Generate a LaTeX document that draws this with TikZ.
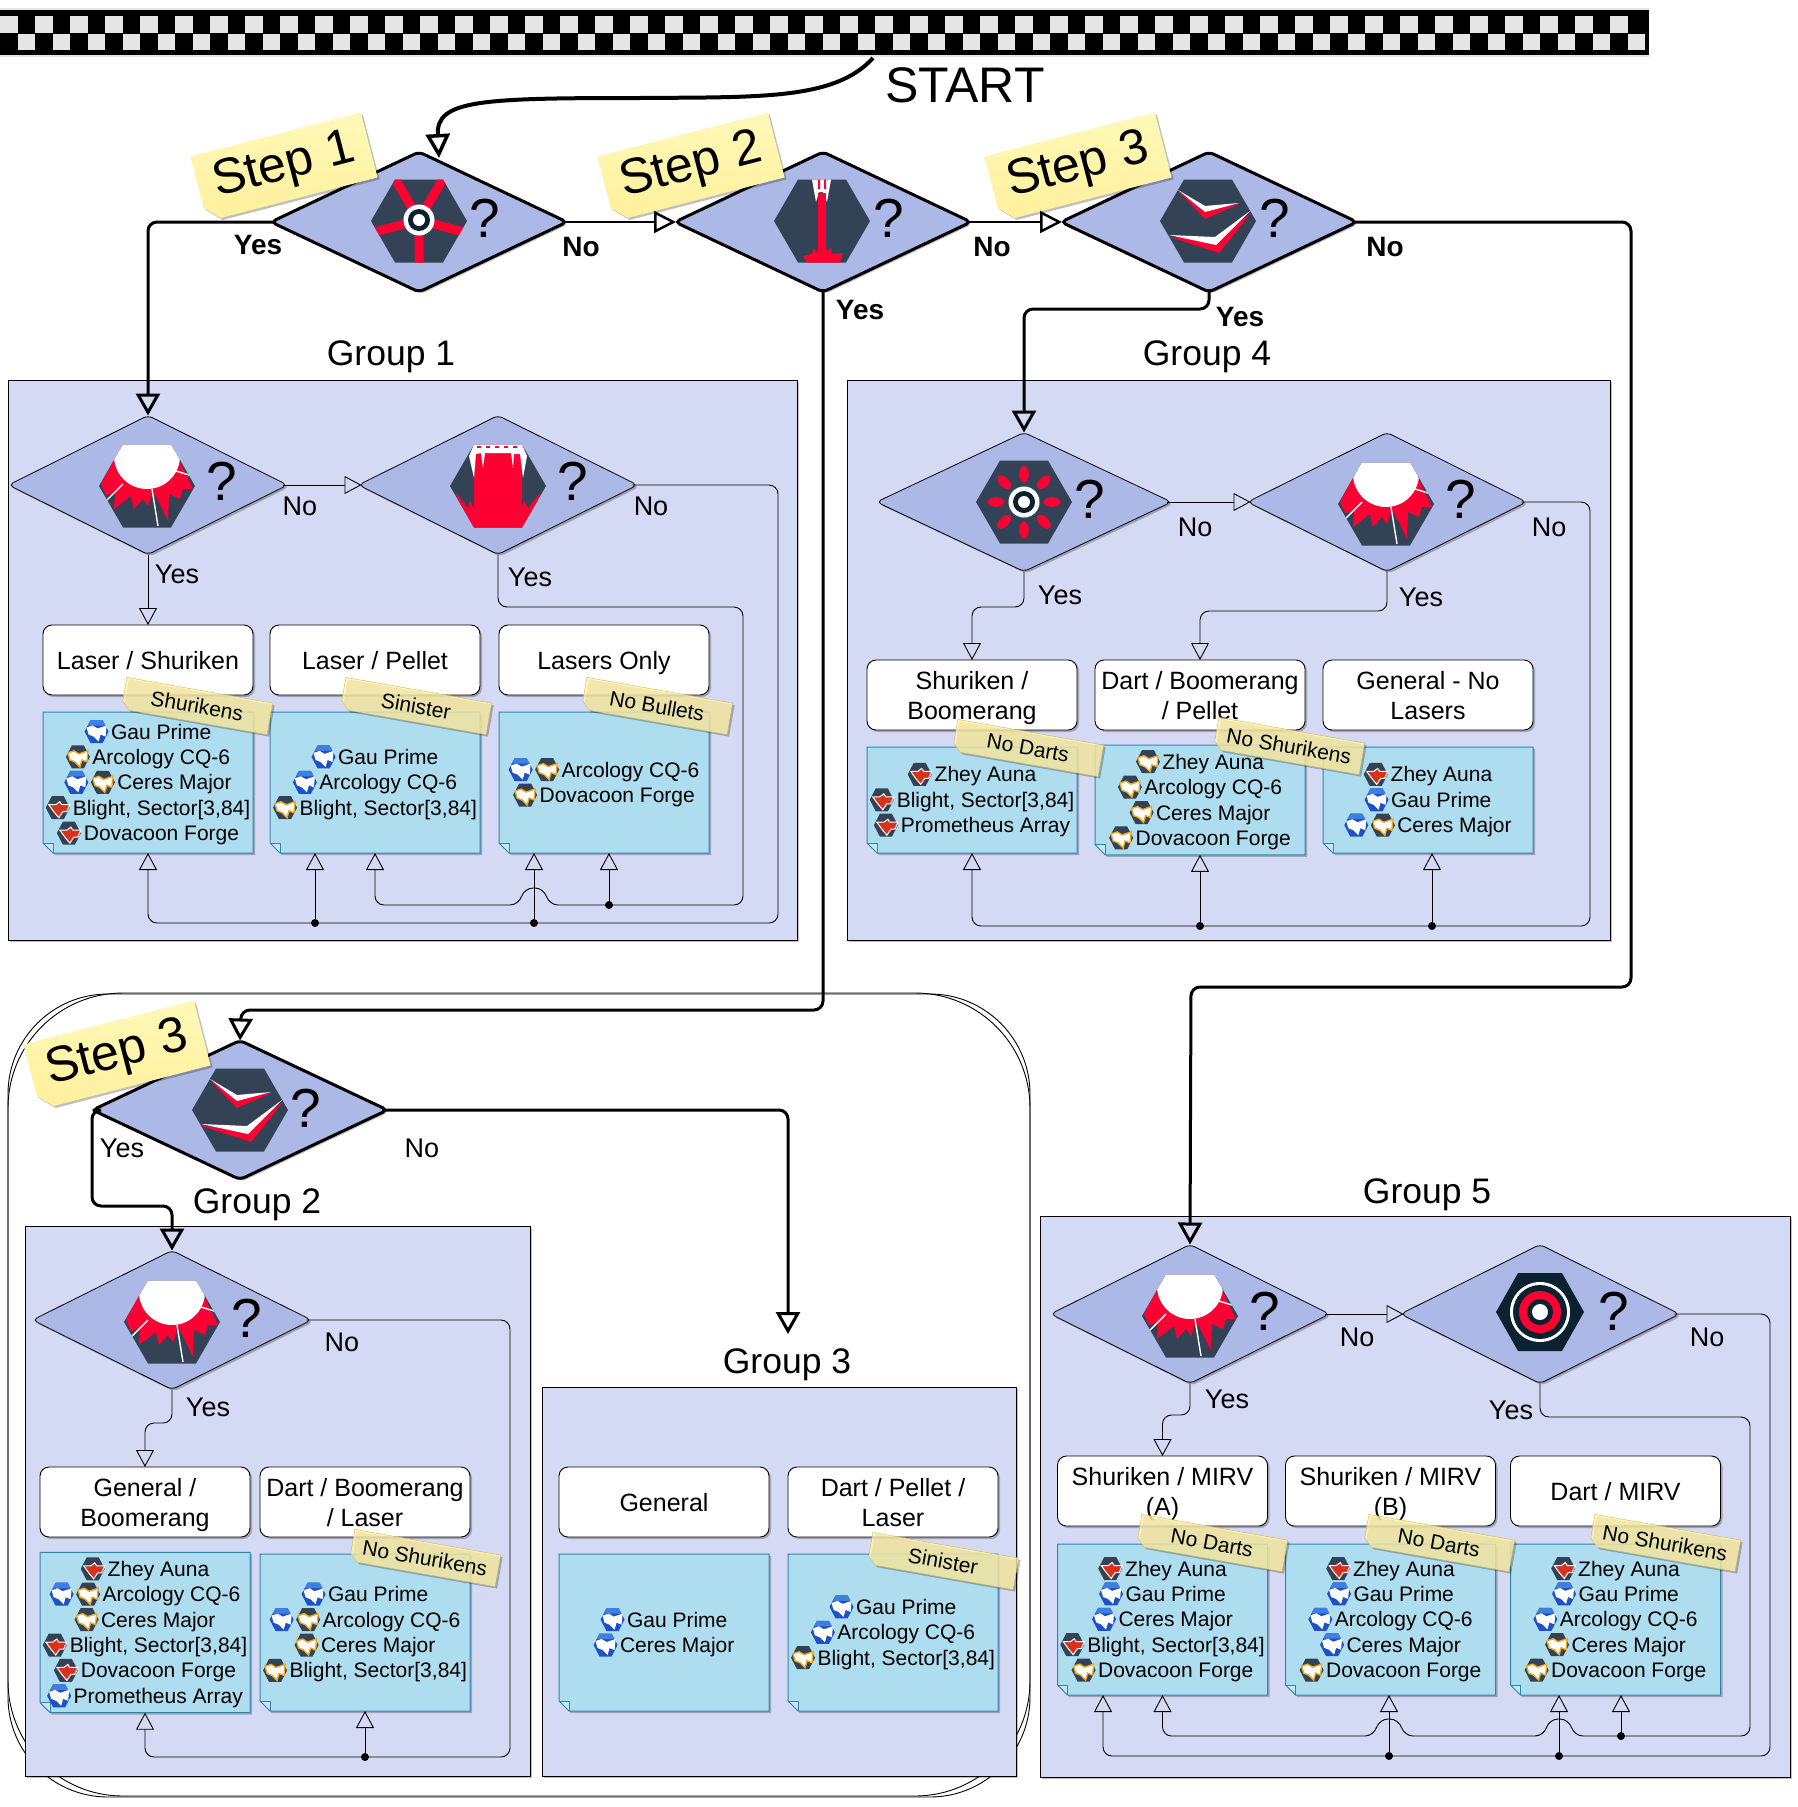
\documentclass[tikz,border=0pt]{standalone}
\usepackage{fontspec}
\setmainfont{Liberation Sans}
\usetikzlibrary{arrows.meta,shapes.geometric,shapes.misc,shadows}

\definecolor{qfill}{HTML}{ACB8E5}
\definecolor{groupfill}{HTML}{D5DAF4}
\definecolor{notefill}{HTML}{AFDDF0}
\definecolor{noteline}{HTML}{2D86AE}
\definecolor{hexdark}{HTML}{344256}
\definecolor{hexred}{HTML}{FF0033}
\definecolor{hexblack}{HTML}{0B2130}
\definecolor{icblue}{HTML}{1E50C8}
\definecolor{icsky}{HTML}{3F7FE0}
\definecolor{icyel}{HTML}{F2A81D}
\definecolor{icred}{HTML}{D8321C}
\definecolor{stickytop}{HTML}{FFF8B8}
\definecolor{stickybot}{HTML}{FFF09C}
\definecolor{stickyfold}{HTML}{F5E38A}
\definecolor{tagfill}{HTML}{FFF2A8}
\definecolor{tagline}{HTML}{D6B656}

\newcommand{\hexpath}{(-48,0) -- (-24,-41.5) -- (24,-41.5) -- (48,0) -- (24,41.5) -- (-24,41.5) -- cycle}
\newcommand{\smallhex}{(-12,0) -- (-6,-11.5) -- (6,-11.5) -- (12,0) -- (6,11.5) -- (-6,11.5) -- cycle}
\newcommand{\toothpath}{(-10,-4) -- (-4,-6) -- (1,-3) -- (10,-6) -- (9,5) -- (4,3) -- (2,10) -- (-3,5) -- (-8,3) -- cycle}
\newcommand{\icb}{\raisebox{-4pt}{\tikz[x=1pt,y=-1pt]{\fill[icblue] \smallhex; \fill[icsky] (-6,-11.5) -- (6,-11.5) -- (9,-6) -- (-9,-6) -- cycle; \fill[white] \toothpath;}}\hspace{2.5pt}}
\newcommand{\icy}{\raisebox{-4pt}{\tikz[x=1pt,y=-1pt]{\fill[hexdark] \smallhex; \filldraw[fill=white,draw=icyel,line width=1.4pt] \toothpath;}}\hspace{2.5pt}}
\newcommand{\icr}{\raisebox{-4pt}{\tikz[x=1pt,y=-1pt]{\fill[hexdark] \smallhex; \filldraw[fill=icred,draw=white,line width=1pt] (-9,-3) -- (-2,-3) -- (2,-6) -- (4,-3) -- (12,-3) -- (9,4) -- (5,4) -- (1,10) -- (-4,4) -- cycle;}}\hspace{2.5pt}}

\tikzset{
  hexspoke/.pic={
    \fill[hexdark] \hexpath;
    \begin{scope}
      \clip \hexpath;
      \draw[hexred,line width=9pt] (0,-1) -- (-25,-44) (0,-1) -- (25,-44) (0,-1) -- (-48,12) (0,-1) -- (48,12) (0,-1) -- (0,44);
    \end{scope}
    \fill[white] (0,-1) circle[radius=15.5pt];
    \fill[hexblack] (0,-1) circle[radius=11pt];
    \fill[white] (0,-1) circle[radius=6pt];
  },
  hexlaser/.pic={
    \fill[hexdark] \hexpath;
    \fill[white] (-10,-41.5) -- (9,-41.5) -- (5,-19) -- (1,-29) -- (-3,-29) -- (-6,-19) -- cycle;
    \fill[hexred] (-4,-41.5) rectangle (-2,-32) (2,-41.5) rectangle (4,-32);
    \fill[hexred] (-4,-28) rectangle (4,30);
    \fill[hexred] (-19,35) -- (-10,33) -- (-9,28) -- (-4,31) -- (-1,25) -- (3,30) -- (10,27) -- (9,33) -- (21,32) -- (18,41.5) -- (-15,41.5) -- cycle;
  },
  hexchevron/.pic={
    \fill[hexdark] \hexpath;
    \fill[hexred] (-29,-29) -- (-3,-2) -- (31,-17) -- (-3,-12) -- cycle;
    \fill[white] (-30,-31) -- (-3,-15) -- (31,-18) -- (-3,-9) -- cycle;
    \fill[hexred] (-38,16) -- (11,32) -- (43,-8) -- (7,19) -- cycle;
    \fill[white] (-39,14) -- (7,16) -- (42,-10) -- (8,24) -- cycle;
  },
  hexshatter/.pic={
    \fill[hexdark] \hexpath;
    \begin{scope}
      \clip \hexpath;
      \fill[hexred] (-32,-28) -- (-46,-2) -- (-41,9) -- (-32,7) -- (-33,23) -- (-16,10) -- (-13,23) -- (-4,13) -- (1,20) -- (6,5) -- (14,20) -- (21,35) -- (22,8) -- (33,13) -- (36,3) -- (46,3) -- (31,-28) -- cycle;
      \draw[white,line width=1.4pt] (-24,-2) -- (-40,14) (5,3) -- (11,40) (29,-15) -- (42,-11);
      \fill[white] (0,-30) circle[radius=33pt];
    \end{scope}
  },
  hexwide/.pic={
    \fill[hexdark] \hexpath;
    \begin{scope}
      \clip \hexpath;
      \fill[hexred] (-42,7) -- (-30,22) -- (-28,14) -- (-24,24) -- (-24,-34) -- (24,-34) -- (24,24) -- (26,14) -- (30,22) -- (42,7) -- (30,45) -- (-30,45) -- cycle;
    \end{scope}
    \fill[white] (-24,-41.5) -- (24,-41.5) -- (29,-30) -- (25,-8) -- (22,-32) -- (16,-32) -- (15,-18) -- (13,-33) -- (-13,-33) -- (-15,-18) -- (-17,-33) -- (-22,-32) -- (-24,-8) -- (-29,-30) -- cycle;
    \draw[hexred,line width=2pt,dash pattern=on 4pt off 5pt] (-21,-39) -- (22,-39);
  },
  hexpetal/.pic={
    \fill[hexdark] \hexpath;
    \foreach \a in {0,45,...,315}
      \fill[hexred,rotate=\a] (28,0) ellipse[x radius=8.5pt,y radius=4.8pt];
    \fill[white] (0,0) circle[radius=15.5pt];
    \fill[hexblack] (0,0) circle[radius=11pt];
    \fill[white] (0,0) circle[radius=6pt];
  },
  hextarget/.pic={
    \fill[hexblack] (-44,0) -- (-22,-39) -- (22,-39) -- (44,0) -- (22,39) -- (-22,39) -- cycle;
    \fill[white] (0,0) circle[radius=30pt];
    \fill[hexblack] (0,0) circle[radius=27pt];
    \fill[hexred] (0,0) circle[radius=21pt];
    \fill[hexblack] (0,0) circle[radius=13pt];
    \fill[white] (0,0) circle[radius=8pt];
  },
}

\begin{document}
\begin{tikzpicture}[x=1pt,y=-1pt,
  shade1/.style={drop shadow={shadow xshift=2pt,shadow yshift=-2pt,opacity=.25,fill=black}},
  qbig/.style={diamond,draw,fill=qfill,line width=3pt,rounded corners=5pt,inner sep=0,outer sep=0,minimum width=296pt,minimum height=140pt,shade1},
  qsmall/.style={diamond,draw,fill=qfill,line width=.8pt,rounded corners=5pt,inner sep=0,outer sep=0,minimum width=279pt,minimum height=139pt,shade1},
  qwide/.style={qsmall,minimum width=295pt},
  qmark/.style={font=\fontsize{55}{55}\selectfont,inner sep=0},
  group/.style={draw,fill=groupfill,line width=.9pt,inner sep=0,outer sep=0,shade1},
  grouptitle/.style={font=\fontsize{35.5}{40}\selectfont,inner sep=0,text depth=0pt},
  ans/.style={font=\fontsize{27}{30}\selectfont,inner sep=0},
  ansbold/.style={font=\bfseries\fontsize{28}{30}\selectfont,inner sep=0},
  weapon/.style={draw,fill=white,rounded corners=9pt,line width=.9pt,align=center,inner sep=0,outer sep=0,minimum width=210pt,minimum height=70pt,font=\fontsize{25}{30}\selectfont,text depth=0pt,shade1},
  note/.style={chamfered rectangle,chamfered rectangle corners=south west,chamfered rectangle xsep=5pt,chamfered rectangle ysep=5pt,
    draw=noteline,fill=notefill,line width=1pt,align=center,inner ysep=0,inner xsep=-6pt,outer sep=0,minimum width=210pt,font=\fontsize{21}{25.4}\selectfont,shade1,
    path picture={\fill[notefill!70!white] (path picture bounding box.south west) ++(0,10pt) -- ++(10pt,0) -- ++(0,-10pt) -- cycle;
      \draw[noteline] (path picture bounding box.south west) ++(0,10pt) -- ++(10pt,0) -- ++(0,-10pt);}},
  stepnote/.style={chamfered rectangle,chamfered rectangle corners=south west,chamfered rectangle xsep=7pt,chamfered rectangle ysep=7pt,
    top color=stickytop,bottom color=stickybot,rotate=14.5,inner sep=0,outer sep=0,minimum width=176pt,minimum height=67pt,font=\fontsize{50}{50}\selectfont,shade1,
    path picture={\fill[stickyfold] (path picture bounding box.south west) ++(0,15pt) -- ++(15pt,0) -- ++(0,-15pt) -- cycle;}},
  tag/.style={chamfered rectangle,chamfered rectangle corners=south west,chamfered rectangle xsep=4pt,chamfered rectangle ysep=4pt,
    draw=tagline,fill=tagfill,fill opacity=.8,text opacity=1,rotate=-10,inner sep=0,outer sep=0,minimum width=148pt,minimum height=32pt,font=\fontsize{21}{25}\selectfont,shade1},
  dot/.style={circle,fill=black,inner sep=0,outer sep=0,minimum size=8pt},
  bigarrow/.style={-{Triangle[open,length=22pt,width=24pt,line width=3pt]},line width=3pt,rounded corners=9pt},
  midarrow/.style={-{Triangle[open,length=22pt,width=22pt,line width=2.5pt]},line width=2.5pt,shorten <=-5pt,shorten >=-1pt},
  thinarrow/.style={-{Triangle[open,length=17pt,width=18pt,line width=.9pt]},line width=.9pt,rounded corners=9pt},
  across/.style={shorten <=-5pt,shorten >=-3pt},
  fromtip/.style={shorten <=-5pt},
]
\useasboundingbox (0,0) rectangle (1797,1807);

% checker strip
\fill[black!10] (0,8) rectangle (1649,57);
\fill[black] (0,10) rectangle (1649,55);
\foreach \k in {0,...,46} {
  \fill[black!10] (35*\k,16) rectangle (35*\k+17.5,32.5);
  \fill[black!10] (35*\k+17.5,33.5) rectangle (35*\k+35,50);
}
\coordinate (startc) at (873,58);
\node[font=\fontsize{50}{50}\selectfont,inner sep=0] (start) at (965,85) {START};

% hand drawn frame round groups 2 and 3
\draw[line width=.9pt,rounded corners=115pt] (8,993) rectangle (1030,1796);
\draw[line width=.9pt,rounded corners=100pt] (8,994) rectangle (1030,1797);

% first row
\node[qbig] (q1) at (419,222) {};
\node[qbig] (q2) at (823,222) {};
\node[qbig] (q3) at (1209,222) {};
\pic (i1) at (419,221) {hexspoke};
\pic (i2) at (822,221) {hexlaser};
\pic (i3) at (1208,221) {hexchevron};
\node[qmark] (m1) at (485,218) {?};
\node[qmark] (m2) at (889,218) {?};
\node[qmark] (m3) at (1275,218) {?};
\node[stepnote] (st1) at (284,167) {Step 1};
\node[stepnote] (st2) at (691,167) {Step 2};
\node[stepnote] (st3) at (1078,167) {Step 3};
\node[ansbold] (y1) at (258,245) {Yes};
\node[ansbold] (n1) at (581,247) {No};
\node[ansbold] (y2) at (860,310) {Yes};
\node[ansbold] (n2) at (992,247) {No};
\node[ansbold] (y3) at (1240,317) {Yes};
\node[ansbold] (n3) at (1385,247) {No};

% group 1
\node[group,minimum width=789pt,minimum height=560pt] (g1) at (402.5,660) {};
\node[grouptitle] (t1) at (391,353) {Group 1};
\node[qsmall] (a1) at (148,485) {};
\node[qsmall] (a2) at (498,485) {};
\pic (ia1) at (147,486) {hexshatter};
\pic (ia2) at (498,486) {hexwide};
\node[qmark] (ma1) at (222,481) {?};
\node[qmark] (ma2) at (573,481) {?};
\node[ans] (na1) at (300,506) {No};
\node[ans] (na2) at (651,506) {No};
\node[ans] (ya1) at (177,574) {Yes};
\node[ans] (ya2) at (530,577) {Yes};
\node[weapon] (w1) at (148,660) {Laser / Shuriken};
\node[weapon] (w2) at (375,660) {Laser / Pellet};
\node[weapon] (w3) at (604,660) {Lasers Only};
\node[note,minimum height=141pt] (l1) at (148,782.5) {\icb Gau Prime\\\icy Arcology CQ-6\\\icb\icy Ceres Major\\\icr Blight, Sector[3,84]\\\icr Dovacoon Forge};
\node[note,minimum height=141pt] (l2) at (375,782.5) {\icb Gau Prime\\\icb Arcology CQ-6\\\icy Blight, Sector[3,84]};
\node[note,minimum height=141pt] (l3) at (604,782.5) {\icb\icy Arcology CQ-6\\\icy Dovacoon Forge};
\node[tag] (k1) at (197,706) {Shurikens};
\node[tag] (k2) at (416,706) {Sinister};
\node[tag] (k3) at (657,706) {No Bullets};
\node[dot] (j1) at (315,923) {};
\node[dot] (j2) at (534,923) {};
\node[dot] (j3) at (609,905) {};
\draw[thinarrow,across] (a1.east) -- (a2.west);
\draw[thinarrow] (a1.south) -- (w1.north);
\draw[thinarrow] (j1) -- (j1 |- l2.south);
\draw[thinarrow] (j2) -- (j2 |- l3.south);
\draw[thinarrow] (j3) -- (j3 |- l3.south);
\draw[thinarrow,fromtip] (a2.east) -- (778,485) -- (778,923) -- (148,923) -- (l1.south);
\draw[thinarrow] (a2.south) -- (498,607) -- (743,607) -- (743,905) -- (549,905)
  -- (544,888) -- (524,888) -- (519,905)
  -- (375,905) -- (l2.south);

% group 4
\node[group,minimum width=763pt,minimum height=560pt] (g4) at (1228.5,660) {};
\node[grouptitle] (t4) at (1207,353) {Group 4};
\node[qwide] (b1) at (1024,502) {};
\node[qsmall] (b2) at (1387,502) {};
\pic (ib1) at (1024,502) {hexpetal};
\pic (ib2) at (1386,504) {hexshatter};
\node[qmark] (mb1) at (1090,499) {?};
\node[qmark] (mb2) at (1461,499) {?};
\node[ans] (nb1) at (1195,527) {No};
\node[ans] (nb2) at (1549,527) {No};
\node[ans] (yb1) at (1060,595) {Yes};
\node[ans] (yb2) at (1421,597) {Yes};
\node[weapon] (w4) at (972,695) {Shuriken /\\Boomerang};
\node[weapon] (w5) at (1200,695) {Dart / Boomerang\\/ Pellet};
\node[weapon] (w6) at (1428,695) {General - No\\Lasers};
\node[note,minimum height=106pt] (l4) at (972,800) {\icr Zhey Auna\\\icr Blight, Sector[3,84]\\\icr Prometheus Array};
\node[note,minimum height=106pt] (l5) at (1200,800) {\icy Zhey Auna\\\icy Arcology CQ-6\\\icy Ceres Major\\\icy Dovacoon Forge};
\node[note,minimum height=106pt] (l6) at (1428,800) {\icr Zhey Auna\\\icb Gau Prime\\\icb\icy Ceres Major};
\node[tag] (k4) at (1028,748) {No Darts};
\node[tag] (k5) at (1289,746) {No Shurikens};
\node[dot] (j4) at (1200,926) {};
\node[dot] (j5) at (1432,926) {};
\draw[thinarrow,across] (b1.east) -- (b2.west);
\draw[thinarrow] (b1.south) -- (1024,607) -- (972,607) -- (w4.north);
\draw[thinarrow] (b2.south) -- (1387,611) -- (1200,611) -- (w5.north);
\draw[thinarrow] (j4) -- (j4 |- l5.south);
\draw[thinarrow] (j5) -- (j5 |- l6.south);
\draw[thinarrow,fromtip] (b2.east) -- (1590,502) -- (1590,926) -- (972,926) -- (l4.south);

% group 2
\node[group,minimum width=505pt,minimum height=550pt] (g2) at (277.5,1501) {};
\node[qbig,minimum width=295pt,minimum height=139pt] (q4) at (240,1110) {};
\pic (i4) at (240,1110) {hexchevron};
\node[qmark] (m4) at (306,1108) {?};
\node[stepnote] (st4) at (117,1055) {Step 3};
\node[ans] (y4) at (122,1148) {Yes};
\node[ans] (n4) at (422,1148) {No};
\node[grouptitle] (t2) at (257,1201) {Group 2};
\node[qsmall] (c1) at (172,1320) {};
\pic (ic1) at (172,1322) {hexshatter};
\node[qmark] (mc1) at (247,1318) {?};
\node[ans] (nc1) at (342,1342) {No};
\node[ans] (yc1) at (208,1407) {Yes};
\node[weapon] (w7) at (145,1502) {General /\\Boomerang};
\node[weapon] (w8) at (365,1502) {Dart / Boomerang\\/ Laser};
\node[note,minimum height=157pt] (l7) at (145,1632.5) {\icr Zhey Auna\\\icb\icy Arcology CQ-6\\\icy Ceres Major\\\icr Blight, Sector[3,84]\\\icr Dovacoon Forge\\\icb Prometheus Array};
\node[note,minimum height=157pt] (l8) at (365,1632.5) {\icb Gau Prime\\\icb\icy Arcology CQ-6\\\icy Ceres Major\\\icy Blight, Sector[3,84]};
\node[tag] (k6) at (425,1558) {No Shurikens};
\node[dot] (j6) at (365,1757) {};
\draw[thinarrow] (c1.south) -- (172,1423) -- (145,1423) -- (w7.north);
\draw[thinarrow] (j6) -- (j6 |- l8.south);
\draw[thinarrow,fromtip] (c1.east) -- (510,1320) -- (510,1757) -- (145,1757) -- (l7.south);

% group 3
\node[group,minimum width=474pt,minimum height=389pt] (g3) at (779,1581.5) {};
\node[grouptitle] (t3) at (787,1361) {Group 3};
\node[weapon] (w9) at (664,1502) {General};
\node[weapon] (w10) at (893,1502) {Dart / Pellet /\\Laser};
\node[note,minimum height=157pt] (l9) at (664,1632.5) {\icb Gau Prime\\\icb Ceres Major};
\node[note,minimum height=157pt] (l10) at (893,1632.5) {\icb Gau Prime\\\icb Arcology CQ-6\\\icy Blight, Sector[3,84]};
\node[tag] (k7) at (943,1561) {Sinister};
\coordinate (g3top) at (788,1334);

% group 5
\node[group,minimum width=750pt,minimum height=561pt] (g5) at (1415,1496.5) {};
\node[grouptitle] (t5) at (1427,1191) {Group 5};
\node[qsmall] (e1) at (1190,1314) {};
\node[qsmall] (e2) at (1540,1314) {};
\pic (ie1) at (1190,1316) {hexshatter};
\pic (ie2) at (1540,1312) {hextarget};
\node[qmark] (me1) at (1265,1311) {?};
\node[qmark] (me2) at (1614,1311) {?};
\node[ans] (ne1) at (1357,1337) {No};
\node[ans] (ne2) at (1707,1337) {No};
\node[ans] (ye1) at (1227,1399) {Yes};
\node[ans] (ye2) at (1511,1410) {Yes};
\node[weapon] (w11) at (1162.5,1491) {Shuriken / MIRV\\(A)};
\node[weapon] (w12) at (1390.5,1491) {Shuriken / MIRV\\(B)};
\node[weapon] (w13) at (1615.5,1491) {Dart / MIRV};
\node[note,minimum height=151pt] (l11) at (1162.5,1619.5) {\icr Zhey Auna\\\icb Gau Prime\\\icb Ceres Major\\\icr Blight, Sector[3,84]\\\icy Dovacoon Forge};
\node[note,minimum height=151pt] (l12) at (1390.5,1619.5) {\icr Zhey Auna\\\icb Gau Prime\\\icb Arcology CQ-6\\\icb Ceres Major\\\icy Dovacoon Forge};
\node[note,minimum height=151pt] (l13) at (1615.5,1619.5) {\icr Zhey Auna\\\icb Gau Prime\\\icb Arcology CQ-6\\\icy Ceres Major\\\icy Dovacoon Forge};
\node[tag] (k8) at (1212,1543) {No Darts};
\node[tag] (k9) at (1439,1543) {No Darts};
\node[tag] (k10) at (1665,1543) {No Shurikens};
\node[dot] (j7) at (1389,1756) {};
\node[dot] (j8) at (1559,1756) {};
\node[dot] (j9) at (1621,1736) {};
\coordinate (l11a) at (1103,1695);
\draw[thinarrow,across] (e1.east) -- (e2.west);
\draw[thinarrow] (e1.south) -- (1190,1415) -- (1162.5,1415) -- (w11.north);
\draw[thinarrow] (j7) -- (j7 |- l12.south);
\draw[thinarrow] (j8) -- (j8 |- l13.south);
\draw[thinarrow] (j9) -- (j9 |- l13.south);
\draw[thinarrow,fromtip] (e2.east) -- (1770,1314) -- (1770,1756) -- (1103,1756) -- (l11a);
\draw[thinarrow] (e2.south) -- (1540,1417) -- (1750,1417) -- (1750,1736) -- (1574,1736)
  -- (1569,1719) -- (1549,1719) -- (1544,1736)
  -- (1404,1736) -- (1399,1719) -- (1379,1719) -- (1374,1736)
  -- (1162.5,1736) -- (l11.south);

% main flow
\coordinate (q1top) at (439,158);
\draw[-{Triangle[open,length=24pt,width=24pt,line width=3.5pt]},line width=4pt] (startc) .. controls (835,100) and (760,97) .. (640,98) .. controls (480,98) and (436,100) .. (q1top);
\draw[bigarrow,fromtip] (q1.west) -- (148,222) -- (a1.north);
\draw[midarrow] (q1.east) -- (q2.west);
\draw[midarrow] (q2.east) -- (q3.west);
\draw[bigarrow] (q3.south) -- (1209,309) -- (1024,309) -- (b1.north);
\draw[bigarrow] (q2.south) -- (823,1010) -- (241,1010) -- (q4.north);
\draw[bigarrow] (q4.west) -- (92,1110) -- (92,1206) -- (172,1206) -- (c1.north);
\draw[bigarrow,fromtip] (q4.east) -- (788,1110) -- (g3top);
\draw[bigarrow,fromtip] (q3.east) -- (1631,222) -- (1631,987) -- (1191,987) -- (e1.north);
\end{tikzpicture}
\end{document}
